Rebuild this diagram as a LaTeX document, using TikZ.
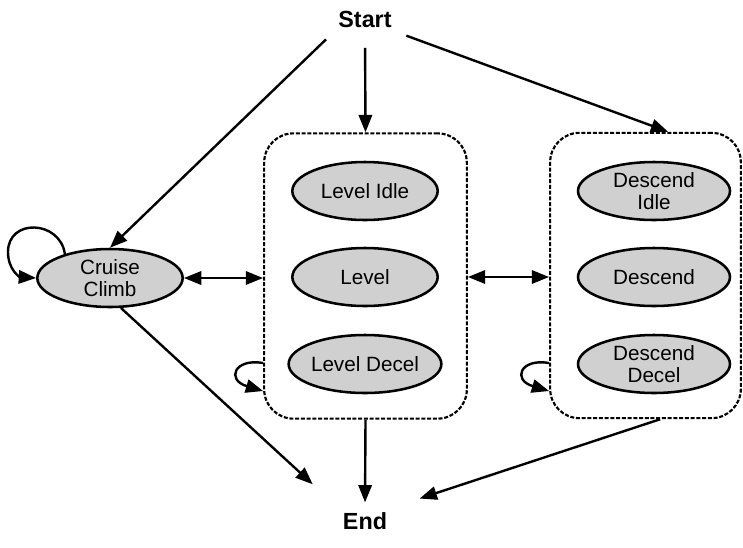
\documentclass[tikz,border=0pt]{standalone}
\usepackage{fontspec}
\setmainfont{Liberation Sans}
\usetikzlibrary{shapes,arrows.meta,positioning}
\definecolor{stategray}{RGB}{208,208,208}

\begin{document}
\begin{tikzpicture}[x=0.75pt, y=-0.75pt,
  state/.style={ellipse, draw, line width=1.9pt, fill=stategray, inner sep=0pt,
                minimum width=#1, minimum height=43.5pt, align=center,
                font=\fontsize{15.5}{17}\selectfont},
  state/.default=109pt,
  group/.style={draw, line width=1.6pt, dash pattern=on 3pt off 1.3pt,
                rounded corners=22pt, minimum height=214pt},
  term/.style={font=\fontsize{17.5}{20}\selectfont\bfseries},
  arr/.style={-{Triangle[length=13pt,width=10pt]}, line width=1.8pt},
  darr/.style={{Triangle[length=13pt,width=10pt]}-{Triangle[length=13pt,width=10pt]},
               line width=1.8pt}]
  \useasboundingbox (0,0) rectangle (743,547);

  \node[term] (start) at (365,19)  {Start};
  \node[term] (end)   at (365,521) {End};

  \node[state] (cruise) at (110,278) {Cruise\\Climb};

  % level group
  \node[group, minimum width=152pt] (lvlbox) at (365.5,276) {};
  \node[state] (lvlidle)  at (365,191) {Level Idle};
  \node[state] (lvl)      at (365,277) {Level};
  \node[state] (lvldecel) at (365,364) {Level Decel};

  % descend group
  \node[group, minimum width=143pt] (dscbox) at (645.5,275.5) {};
  \node[state=114pt] (dscidle)  at (654,191) {Descend\\Idle};
  \node[state=114pt] (dsc)      at (654,277) {Descend};
  \node[state=114pt] (dscdecel) at (654,364) {Descend\\Decel};

  \draw[arr, shorten <=8pt] (start.south west) -- (cruise.north);
  \draw[arr, shorten <=12pt] (start.south) -- (lvlbox.north);
  \draw[arr, shorten <=8pt] (start.south east) -- ([xshift=17pt]dscbox.north);

  \draw[darr] (cruise.east) -- (cruise.east -| lvlbox.west);
  \draw[darr] (lvlbox.east |- lvl) -- (lvl -| dscbox.west);

  % self loops
  \draw[arr] (cruise.152) .. controls (60,220) and (8,218) .. (8,252)
    .. controls (8,270) and (20,277) .. (cruise.west);
  \coordinate (lvlout) at (lvlbox.west |- 0,363);
  \coordinate (lvlin)  at (lvlbox.west |- 0,391);
  \draw[arr] (lvlout) .. controls (234,358) and (226,380) .. (lvlin);
  \coordinate (dscout) at (dscbox.west |- 0,363);
  \coordinate (dscin)  at (dscbox.west |- 0,391);
  \draw[arr] (dscout) .. controls (520,358) and (512,380) .. (dscin);

  \draw[arr, shorten >=26pt] (cruise.-70) -- (end.north west);
  \draw[arr, shorten >=4pt] (lvlbox.south) -- (end.north);
  \draw[arr, shorten >=22pt] ([xshift=11pt]dscbox.south) -- (end.north east);
\end{tikzpicture}
\end{document}
